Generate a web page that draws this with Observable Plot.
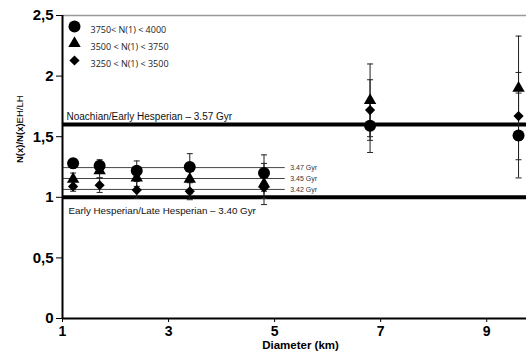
<!DOCTYPE html>
<html><head><meta charset="utf-8">
<script src="https://cdn.jsdelivr.net/npm/d3@7"></script>
<script src="https://cdn.jsdelivr.net/npm/@observablehq/plot@0.6"></script>
<style>
body{margin:0;background:#fff;}
#chart svg{font-family:"Liberation Sans",Arial,sans-serif;}
</style>
</head><body><div id="chart"></div>
<script>
const diameters = [1.2, 1.7, 2.4, 3.4, 4.8, 6.8, 9.6];
const seriesNames = ["3750< N(1) < 4000", "3500 < N(1) < 3750", "3250 < N(1) < 3500"];
const circleValues = [1.28, 1.26, 1.22, 1.25, 1.20, 1.59, 1.51];
const circleErrors = [0.04, 0.05, 0.08, 0.11, 0.15, 0.22, 0.35];
const triangleValues = [1.15, 1.22, 1.16, 1.15, 1.11, 1.80, 1.90];
const triangleErrors = [0.05, 0.06, 0.07, 0.12, 0.17, 0.30, 0.43];
const diamondValues = [1.09, 1.10, 1.06, 1.05, 1.08, 1.72, 1.67];
const diamondErrors = [0.04, 0.06, 0.07, 0.07, 0.09, 0.25, 0.36];
const boundaryValues = [1.6, 1.0];
const boundaryLabels = ["Noachian/Early Hesperian – 3.57 Gyr", "Early Hesperian/Late Hesperian – 3.40 Gyr"];
const fitValues = [1.245, 1.155, 1.065];
const fitLabels = ["3.47 Gyr", "3.45 Gyr", "3.42 Gyr"];
const fitExtent = [1, 5.2];
const xTicks = [1, 3, 5, 7, 9];
const yTicks = [0, 0.5, 1, 1.5, 2, 2.5];

const symbols = ["circle", "triangle", "diamond2"];
const symbolR = [6, 4.6, 4.6];
const seriesValues = [circleValues, triangleValues, diamondValues];
const seriesErrors = [circleErrors, triangleErrors, diamondErrors];

const rows = [];
seriesValues.forEach((vals, s) => vals.forEach((v, i) => rows.push({
  series: s, x: diameters[i], y: v,
  lo: v - seriesErrors[s][i], hi: v + seriesErrors[s][i]
})));

const cap = {draw(ctx, size) { const r = Math.sqrt(size / Math.PI); ctx.moveTo(-r, 0); ctx.lineTo(r, 0); }};

const marks = [
  Plot.ruleY([2.5], {stroke: "#999", strokeWidth: 1.5}),
  Plot.ruleY(boundaryValues, {stroke: "#000", strokeWidth: 4}),
  Plot.ruleY(fitValues, {x1: fitExtent[0], x2: fitExtent[1], stroke: "#444", strokeWidth: 1}),
  Plot.text(fitValues, {x: fitExtent[1], y: d => d, text: (d, i) => fitLabels[i], dx: 5, textAnchor: "start", fontSize: 7, fill: "#333"}),
  Plot.text([boundaryValues[0]], {x: 1, y: d => d, text: () => boundaryLabels[0], dx: 4, dy: -8, textAnchor: "start", fontSize: 10, fill: "#111"}),
  Plot.text([boundaryValues[1]], {x: 1, y: d => d, text: () => boundaryLabels[1], dx: 6, dy: 14, textAnchor: "start", fontSize: 9.8, fill: "#111"}),
  Plot.ruleX(rows, {x: "x", y1: "lo", y2: "hi", stroke: "#222", strokeWidth: 1}),
  Plot.dot(rows, {x: "x", y: "lo", symbol: cap, r: 3, stroke: "#222", strokeWidth: 1, fill: "none"}),
  Plot.dot(rows, {x: "x", y: "hi", symbol: cap, r: 3, stroke: "#222", strokeWidth: 1, fill: "none"}),
  ...symbols.map((sym, s) => Plot.dot(rows.filter(r => r.series === s), {x: "x", y: "y", symbol: sym, r: symbolR[s], fill: "#000", stroke: "none"})),
  ...symbols.map((sym, s) => Plot.dot([seriesNames[s]], {frameAnchor: "top-left", dx: 12, dy: 11 + 17 * s, symbol: sym, r: symbolR[s], fill: "#000", stroke: "none"})),
  ...symbols.map((sym, s) => Plot.text([seriesNames[s]], {frameAnchor: "top-left", dx: 28, dy: 11 + 17 * s, text: d => d, textAnchor: "start", fontSize: 9, fill: "#222", fontFamily: "Open Sans"})),
  Plot.axisY({ticks: yTicks, tickFormat: d => String(d).replace(".", ","), tickSize: 6, tickPadding: 3, fontSize: 15, fontWeight: "bold", label: null, stroke: "#000"}),
  Plot.axisX({ticks: xTicks, tickFormat: d => String(d), tickSize: 4, tickPadding: 4, fontSize: 14, fontWeight: "bold", label: null, stroke: "#000"}),
  Plot.ruleX([1], {stroke: "#000", strokeWidth: 2}),
  Plot.ruleY([0], {stroke: "#000", strokeWidth: 2}),
  Plot.text(["Diameter (km)"], {frameAnchor: "bottom", dx: 6, dy: 30, text: d => d, fontSize: 11.5, fontWeight: "bold", fill: "#000"}),
  Plot.text(["N(x)/N(x)EH/LH"], {frameAnchor: "left", dx: -43, dy: -4, rotate: -90, text: d => d, fontSize: 9.5, fontWeight: "bold", fill: "#000"})
];

const chart = Plot.plot({
  width: 526, height: 355,
  marginLeft: 62, marginRight: 0, marginTop: 15, marginBottom: 37,
  x: {domain: [1, 9.75]},
  y: {domain: [0, 2.5]},
  style: {color: "#000", background: "#fff", fontFamily: "Liberation Sans, Arial, sans-serif"},
  marks
});
document.getElementById("chart").appendChild(chart);

// mixed weight for y label: "EH/LH" lighter
d3.select(chart).selectAll("text").filter(function() { return this.textContent === "N(x)/N(x)EH/LH"; })
  .each(function() {
    const t = d3.select(this);
    t.text(null);
    t.append("tspan").text("N(x)/N(x)");
    t.append("tspan").attr("font-weight", "normal").text("EH/LH");
  });
</script>
</body></html>
